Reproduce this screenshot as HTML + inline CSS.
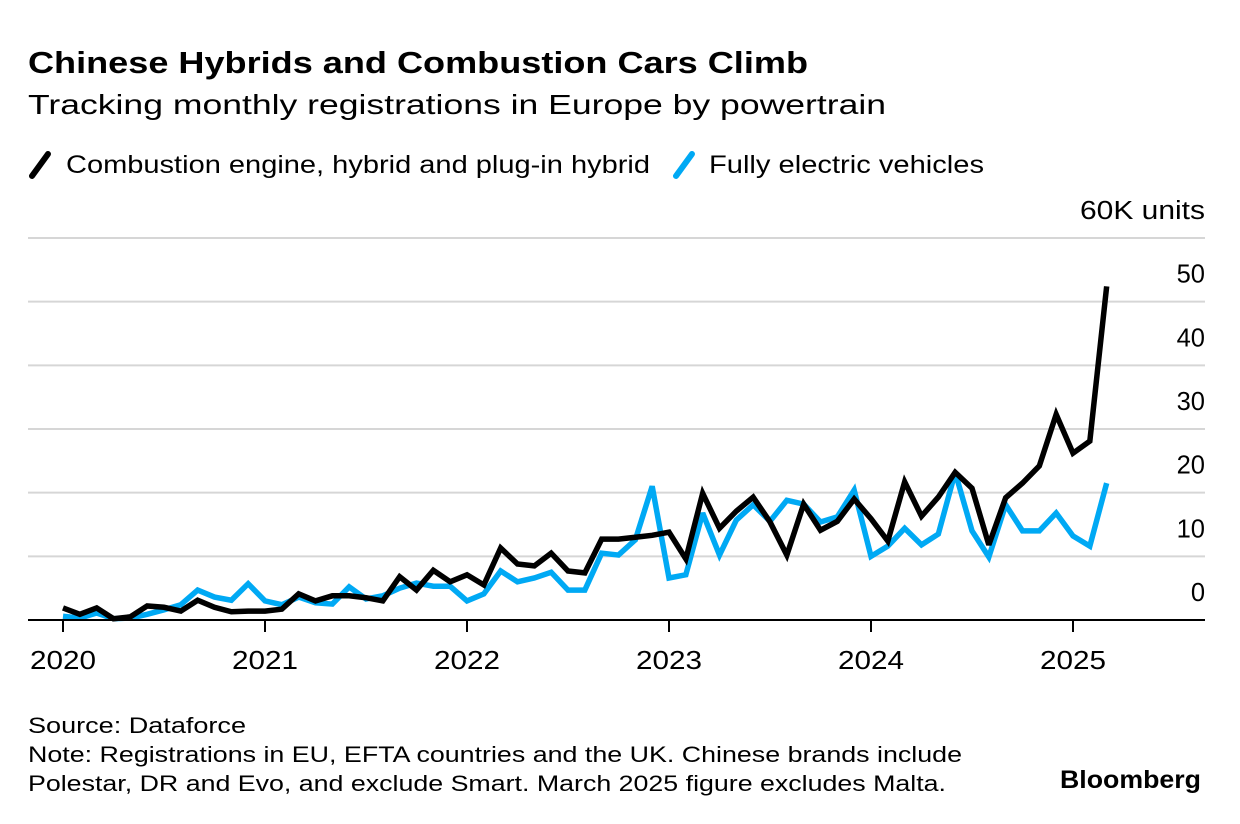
<!DOCTYPE html>
<html><head><meta charset="utf-8"><style>
body{margin:0;background:#fff;width:1240px;height:824px;overflow:hidden;font-family:"Liberation Sans",sans-serif;color:#000}
svg{position:absolute;left:0;top:0}
</style></head><body>
<svg width="1240" height="824" id="chart">
<text x="28" y="73" font-size="31" font-weight="bold" textLength="780" lengthAdjust="spacingAndGlyphs">Chinese Hybrids and Combustion Cars Climb</text>
<text x="28" y="114" font-size="28" textLength="858" lengthAdjust="spacingAndGlyphs">Tracking monthly registrations in Europe by powertrain</text>
<g>
<line x1="32" y1="176" x2="48" y2="154" stroke="#000" stroke-width="6" stroke-linecap="round"/>
<text x="66" y="173" font-size="25" textLength="584" lengthAdjust="spacingAndGlyphs">Combustion engine, hybrid and plug-in hybrid</text>
<line x1="676" y1="176" x2="692" y2="154" stroke="#00a9f4" stroke-width="6" stroke-linecap="round"/>
<text x="709" y="173" font-size="25" textLength="275" lengthAdjust="spacingAndGlyphs">Fully electric vehicles</text>
</g>
<g id="grid"></g><g id="lines"></g><g id="axes"></g>
<text x="28" y="733" font-size="22" textLength="218" lengthAdjust="spacingAndGlyphs">Source: Dataforce</text>
<text x="28" y="762" font-size="22" textLength="934" lengthAdjust="spacingAndGlyphs">Note: Registrations in EU, EFTA countries and the UK. Chinese brands include</text>
<text x="28" y="791" font-size="22" textLength="918" lengthAdjust="spacingAndGlyphs">Polestar, DR and Evo, and exclude Smart. March 2025 figure excludes Malta.</text>
<text x="1060" y="788" font-size="25" font-weight="bold" textLength="141" lengthAdjust="spacingAndGlyphs">Bloomberg</text>
</svg>
<script>
const combustion=[1.9,0.9,1.9,0.2,0.5,2.2,2.0,1.4,3.1,2.0,1.3,1.4,1.4,1.7,4.1,3.0,3.8,3.8,3.5,3.0,6.8,4.7,7.8,6.0,7.1,5.5,11.3,8.8,8.5,10.5,7.7,7.4,12.7,12.7,13.0,13.3,13.8,9.6,19.9,14.4,17.1,19.3,15.4,10.2,18.2,14.1,15.5,19.0,15.9,12.4,21.7,16.3,19.3,23.2,20.7,11.8,19.2,21.5,24.2,32.3,26.2,28.1,52.4];
const electric=[0.6,0.3,1.1,0.2,0.3,0.9,1.6,2.4,4.7,3.6,3.1,5.7,3.0,2.4,3.6,2.7,2.5,5.2,3.3,3.8,5.0,5.8,5.3,5.3,3.0,4.1,7.7,6.0,6.6,7.5,4.7,4.7,10.5,10.2,12.6,21.0,6.6,7.1,16.8,10.2,15.7,18.1,15.5,18.8,18.2,15.4,16.2,20.4,10.0,11.6,14.4,11.8,13.5,23.2,14.0,9.9,18.1,14.0,14.0,16.8,13.2,11.6,21.5];
const yTicks=[0,10,20,30,40,50,60];
const yTickLabels=["0","10","20","30","40","50","60K units"];
const xYears=["2020","2021","2022","2023","2024","2025"];
const NS="http://www.w3.org/2000/svg";
const x=i=>63+i*202/12;
const y=v=>620-v*(382/60);
function mk(t,a,p){const e=document.createElementNS(NS,t);for(const k in a)e.setAttribute(k,a[k]);p.appendChild(e);return e;}
const grid=document.getElementById('grid'),axes=document.getElementById('axes'),lines=document.getElementById('lines');
yTicks.forEach((v,i)=>{
 if(v>0){const g=mk('line',{x1:28,x2:1205,y1:y(v),y2:y(v),stroke:'#d6d6d6','stroke-width':2},grid);
 
 }
 const t=mk('text',{x:1205,y:y(v)-19,'font-size':25.5,'text-anchor':'end'},axes);t.textContent=yTickLabels[i];
 if(v===60){t.setAttribute('textLength',125);t.setAttribute('lengthAdjust','spacingAndGlyphs');}
 
 
});
const base=mk('line',{x1:28,x2:1205,y1:620,y2:620,stroke:'#000','stroke-width':2},axes);


xYears.forEach((yr,i)=>{
 const tx=x(i*12);
 const tk=mk('line',{x1:tx,x2:tx,y1:620,y2:632,stroke:'#000','stroke-width':2},axes);
 
 
 const t=mk('text',{x:tx,y:669,'font-size':25.5,'text-anchor':'middle',textLength:66,lengthAdjust:'spacingAndGlyphs'},axes);t.textContent=yr;
 
 
});
function series(data,color,name){
 const p=mk('polyline',{points:data.map((v,i)=>x(i)+','+y(v)).join(' '),fill:'none',stroke:color,'stroke-width':5.5,'stroke-linejoin':'miter','stroke-miterlimit':3},lines);
 
 
}
series(electric,'#00a9f4','line-electric');
series(combustion,'#000','line-combustion');
</script>
</body></html>
